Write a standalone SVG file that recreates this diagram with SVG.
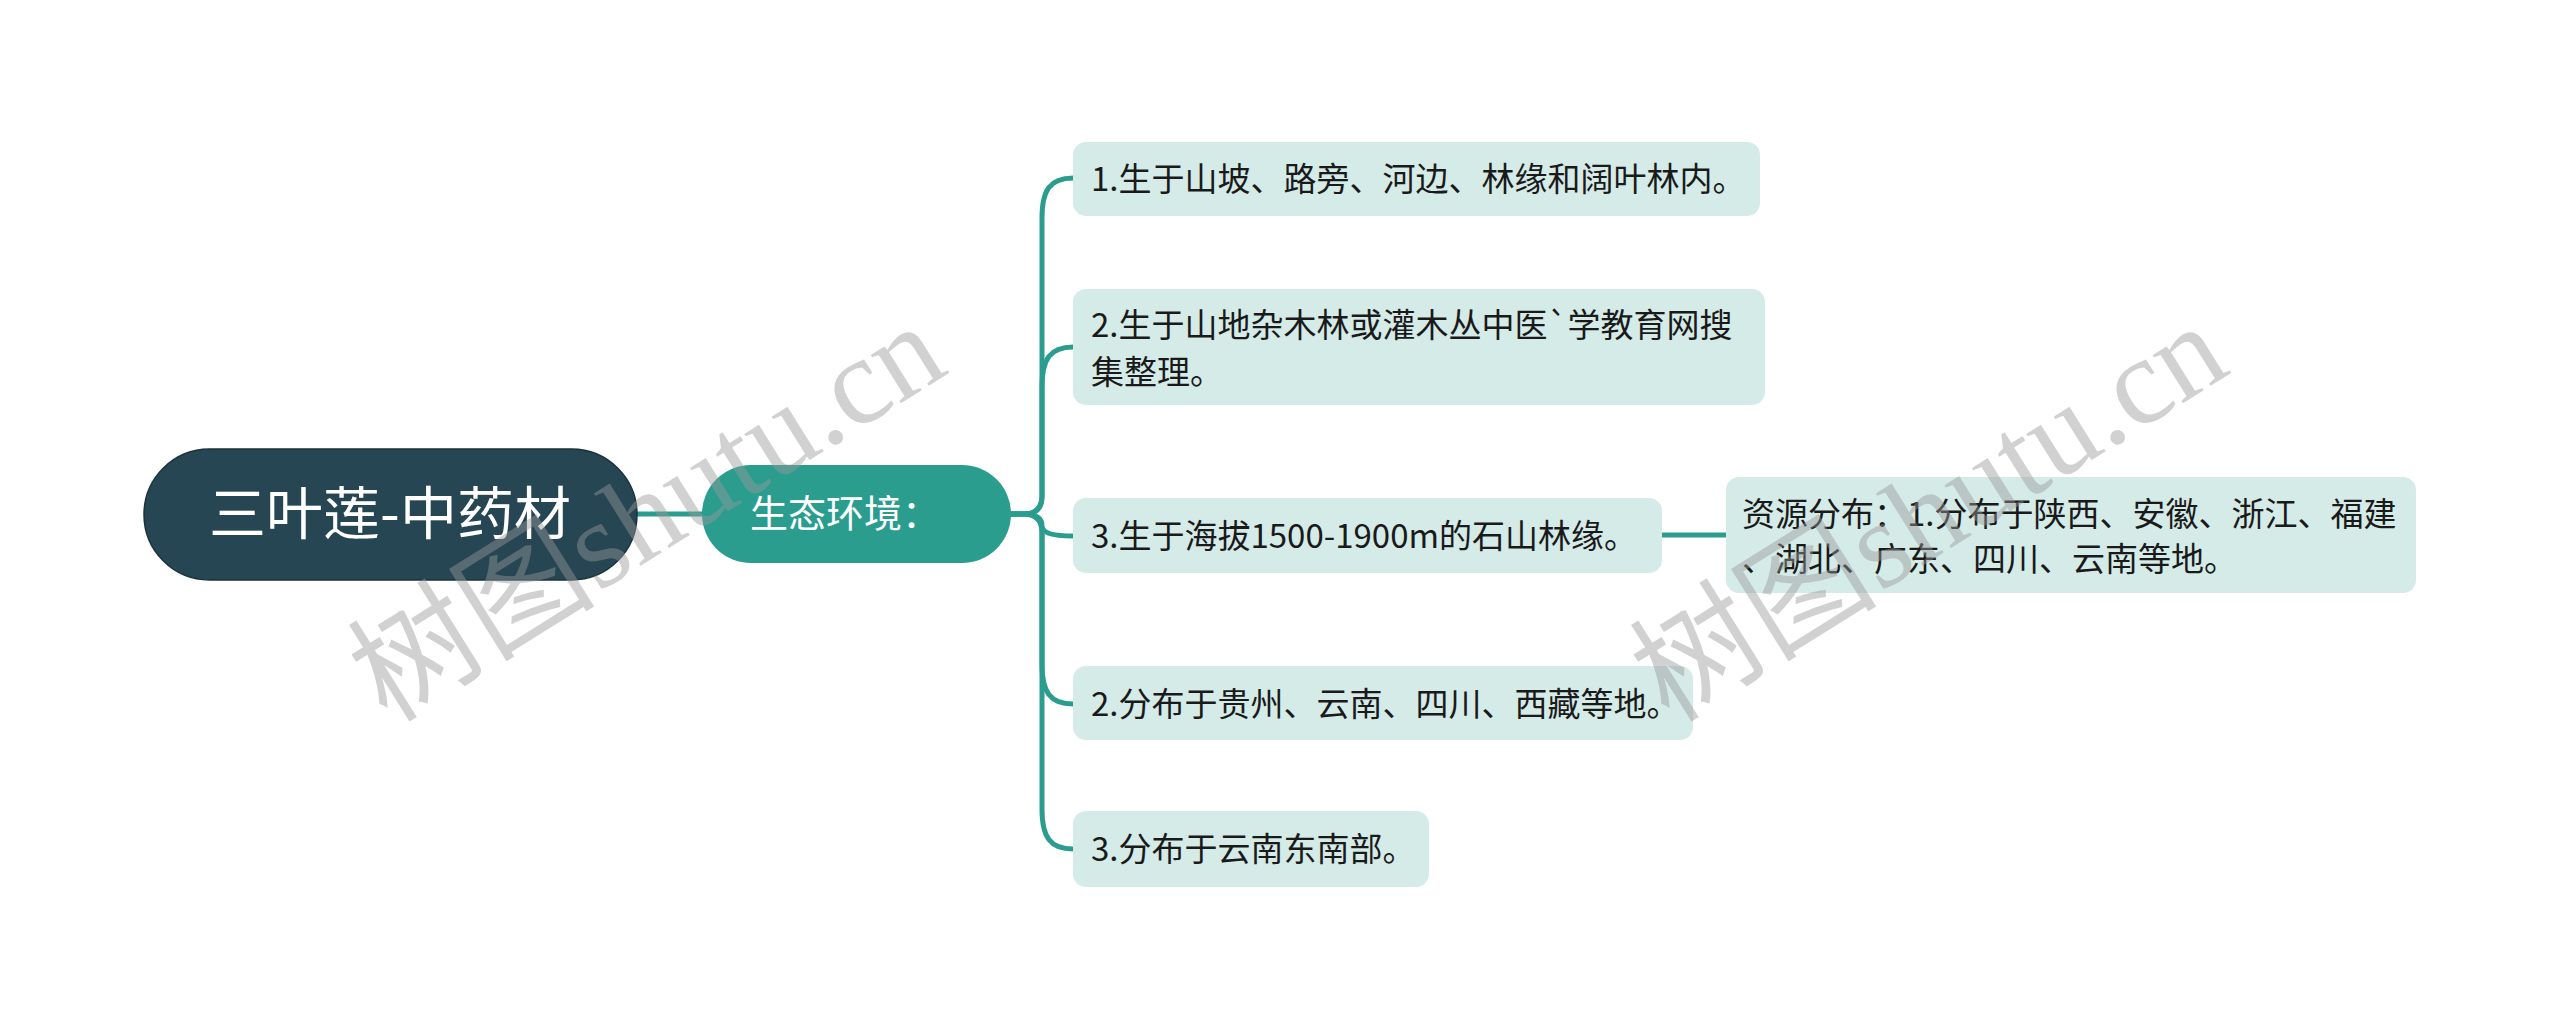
<svg xmlns="http://www.w3.org/2000/svg" width="2560" height="1029" viewBox="0 0 2560 1029">
<style>
.conn{fill:none;stroke:#2a9d8f;stroke-width:5;stroke-linecap:round}
.leaf{fill:#d5ebe8}
.lt{font-family:"Noto Sans CJK SC","Noto Sans",sans-serif;font-size:33px;fill:#1a1a1a}
.wm{font-family:"Liberation Serif","Noto Sans CJK SC",serif;font-size:124px;fill:#9a9a9a;fill-opacity:0.45}
</style>
<rect width="2560" height="1029" fill="#ffffff"/>
<g id="connectors">
<path class="conn" d="M637 514 H702"/>
<path class="conn" d="M1011 514 H1024 Q1042 514 1042 496 V218 C1042 190 1050 178 1073 178"/>
<path class="conn" d="M1011 514 H1024 Q1042 514 1042 496 V387 C1042 359 1050 347 1073 347"/>
<path class="conn" d="M1011 514 H1024 Q1042 514 1042 526 C1042 532 1050 536 1073 536"/>
<path class="conn" d="M1011 514 H1024 Q1042 514 1042 532 V664 C1042 692 1050 704 1073 704"/>
<path class="conn" d="M1011 514 H1024 Q1042 514 1042 532 V809 C1042 837 1050 849 1073 849"/>
<path class="conn" d="M1662 535 H1726"/>
</g>
<g id="root">
<rect x="144" y="449" width="493" height="131" rx="65.5" fill="#264653" stroke="#1b323c" stroke-width="1.5"/>
<text x="390" y="534" text-anchor="middle" font-family="Noto Sans CJK SC, Noto Sans, sans-serif" font-size="57" fill="#ffffff">三叶莲-中药材</text>
</g>
<g id="n_env">
<rect x="702" y="465" width="309" height="98" rx="49" fill="#2a9d8f"/>
<text x="750" y="527" font-family="Noto Sans CJK SC, Noto Sans, sans-serif" font-size="38" fill="#ffffff">生态环境：</text>
</g>
<g id="leaf1">
<rect class="leaf" x="1073" y="142" width="687" height="74" rx="13"/>
<text class="lt" x="1091" y="191">1.生于山坡、路旁、河边、林缘和阔叶林内。</text>
</g>
<g id="leaf2">
<rect class="leaf" x="1073" y="289" width="692" height="116" rx="13"/>
<text class="lt" x="1091" y="337">2.生于山地杂木林或灌木丛中医`学教育网搜</text>
<text class="lt" x="1091" y="384">集整理。</text>
</g>
<g id="leaf3">
<rect class="leaf" x="1073" y="498" width="589" height="75" rx="13"/>
<text class="lt" x="1091" y="548">3.生于海拔1500-1900m的石山林缘。</text>
</g>
<g id="leaf4">
<rect class="leaf" x="1073" y="666" width="620" height="74" rx="13"/>
<text class="lt" x="1091" y="716">2.分布于贵州、云南、四川、西藏等地。</text>
</g>
<g id="leaf5">
<rect class="leaf" x="1073" y="811" width="356" height="76" rx="13"/>
<text class="lt" x="1091" y="861">3.分布于云南东南部。</text>
</g>
<g id="n_res">
<rect class="leaf" x="1726" y="477" width="690" height="116" rx="13"/>
<text class="lt" x="1742" y="526">资源分布：1.分布于陕西、安徽、浙江、福建</text>
<text class="lt" x="1742" y="571">、湖北、广东、四川、云南等地。</text>
</g>
<g id="watermark">
<text class="wm" transform="translate(648 514) rotate(-32)" text-anchor="middle" y="40">树图shutu.cn</text>
<text class="wm" transform="translate(1930 514) rotate(-32)" text-anchor="middle" y="40">树图shutu.cn</text>
</g>
</svg>
